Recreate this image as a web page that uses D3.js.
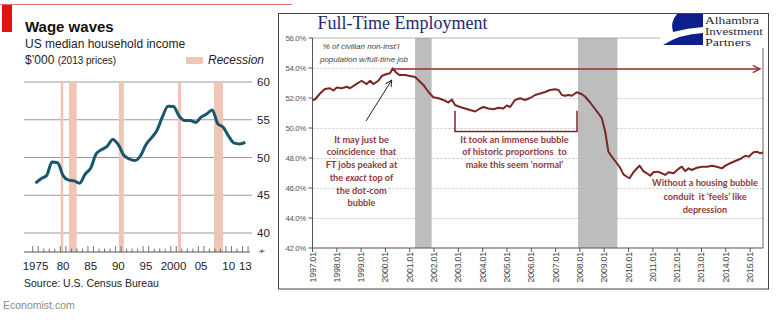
<!DOCTYPE html>
<html><head><meta charset="utf-8">
<script src="https://cdn.jsdelivr.net/npm/d3@7/dist/d3.min.js"></script>
<style>body{margin:0;background:#fff}svg{display:block}</style></head>
<body><svg id="c" width="779" height="324"></svg>
<script>
// ---------- Left chart data (The Economist) ----------
const incomeYears = [1975,1976,1977,1978,1979,1980,1981,1982,1983,1984,1985,1986,1987,1988,1989,1990,1991,1992,1993,1994,1995,1996,1997,1998,1999,2000,2001,2002,2003,2004,2005,2006,2007,2008,2009,2010,2011,2012,2013];
const incomeValues = [46.6,47.2,47.6,49.4,49.3,47.6,47.0,46.9,46.6,47.8,48.6,50.5,51.05,51.5,52.4,51.7,50.3,49.8,49.6,50.2,51.7,52.6,53.6,55.4,56.8,56.75,55.5,54.9,54.9,54.65,55.35,55.75,56.3,54.5,54.0,52.8,51.9,51.8,52.0];
const incomeYTicks = [60,55,50,45,40];
const incomeXTickYears = [1975,1980,1985,1990,1995,2000,2005,2010,2013];
const incomeXTickLabels = ["1975","80","85","90","95","2000","05","10","13"];
const usRecessionStarts = [1980.06,1981.57,1990.6,2001.31,2007.83];
const usRecessionEnds   = [1980.53,1982.96,1991.5,2001.85,2009.46];

// ---------- Right chart data (Full-Time Employment) ----------
const ftDates = [1997.0,1997.10,1997.31,1997.51,1997.72,1997.86,1998.0,1998.2,1998.41,1998.54,1998.75,1999.02,1999.23,1999.37,1999.5,1999.71,1999.85,2000.05,2000.19,2000.3,2000.44,2000.57,2000.81,2001.01,2001.22,2001.35,2001.56,2001.77,2001.97,2002.18,2002.38,2002.59,2002.73,2002.86,2003.07,2003.28,2003.48,2003.69,2003.89,2004.03,2004.23,2004.44,2004.65,2004.85,2004.99,2005.13,2005.33,2005.54,2005.74,2005.95,2006.16,2006.36,2006.57,2006.77,2006.98,2007.12,2007.26,2007.39,2007.53,2007.67,2007.87,2008.08,2008.21,2008.42,2008.63,2008.76,2008.9,2009.04,2009.17,2009.31,2009.52,2009.65,2009.79,2009.93,2010.04,2010.2,2010.34,2010.45,2010.61,2010.75,2010.89,2011.02,2011.19,2011.37,2011.51,2011.64,2011.85,2012.05,2012.19,2012.33,2012.47,2012.6,2012.81,2013.02,2013.23,2013.43,2013.63,2013.84,2013.98,2014.18,2014.39,2014.59,2014.8,2014.94,2015.14,2015.28,2015.42,2015.53];
const ftValues = [51.87,51.9,52.3,52.6,52.65,52.5,52.7,52.65,52.75,52.65,52.87,53.15,52.93,53.15,52.93,53.15,53.47,53.6,53.65,53.98,53.7,53.53,53.53,53.47,53.4,53.2,52.87,52.4,52.05,51.98,51.87,51.7,51.9,51.53,51.4,51.3,51.2,51.1,51.3,51.4,51.3,51.25,51.35,51.3,51.5,51.4,51.87,51.98,51.87,52.0,52.2,52.3,52.4,52.53,52.58,52.53,52.2,52.15,52.2,52.15,52.38,52.25,52.1,51.7,51.25,50.98,50.65,49.75,48.42,48.09,47.65,47.36,46.91,46.75,46.65,47.05,47.3,47.49,47.13,46.98,46.82,47.05,47.09,46.98,46.87,47.05,46.98,47.27,47.42,47.13,47.31,47.2,47.35,47.42,47.42,47.49,47.42,47.31,47.49,47.65,47.8,47.93,48.15,48.09,48.38,48.42,48.31,48.38];
const ftYTicks = [42,44,46,48,50,52,54,56];
const ftXTickYears = [1997,1998,1999,2000,2001,2002,2003,2004,2005,2006,2007,2008,2009,2010,2011,2012,2013,2014,2015];
const ftXTickLabels = ["1997.01","1998.01","1999.01","2000.01","2001.01","2002.01","2003.01","2004.01","2005.01","2006.01","2007.01","2008.01","2009.01","2010.01","2011.01","2012.01","2013.01","2014.01","2015.01"];
const ftRecessionStarts = [2001.22,2007.92];
const ftRecessionEnds   = [2001.9,2009.54];
const ftPeakLevel = 53.93;
const ftBracketStart = 2002.86, ftBracketEnd = 2007.88, ftBracketTop = 51.15, ftBracketBottom = 49.77;

const svg = d3.select("#c");
const SANS = "'Liberation Sans', Arial, sans-serif";

// ================= LEFT CHART =================
svg.append("line").attr("x1",0).attr("x2",292).attr("y1",4.5).attr("y2",4.5)
  .attr("stroke","#e27070").attr("stroke-width",1);
svg.append("rect").attr("x",2).attr("y",5).attr("width",10).attr("height",27).attr("fill","#e3120b");

svg.append("text").attr("x",25).attr("y",32).attr("font-family",SANS).attr("font-weight","bold")
  .attr("font-size",15).attr("fill","#111").text("Wage waves");
svg.append("text").attr("x",25).attr("y",48).attr("font-family",SANS).attr("font-size",12)
  .attr("fill","#222").text("US median household income");
const sub = svg.append("text").attr("x",25).attr("y",64).attr("font-family",SANS).attr("font-size",12).attr("fill","#222");
sub.append("tspan").text("$\u2019000 ");
sub.append("tspan").attr("font-size",10).text("(2013 prices)");
svg.append("rect").attr("x",186).attr("y",57).attr("width",17).attr("height",7).attr("fill","#efc6b4");
svg.append("text").attr("x",208).attr("y",64).attr("font-family",SANS).attr("font-style","italic")
  .attr("font-size",12).attr("fill","#222").text("Recession");

const xL = d3.scaleLinear().domain([1975.5, 2013.5]).range([35.5, 245.3]);
const yL = d3.scaleLinear().domain([40, 60]).range([233, 82]);

// gridlines
svg.append("g").selectAll("line").data(incomeYTicks).join("line")
  .attr("x1",24).attr("x2",252).attr("y1",d=>yL(d)).attr("y2",d=>yL(d))
  .attr("stroke","#9a9a9a").attr("stroke-width",1);
// recession bars
svg.append("g").selectAll("rect").data(usRecessionStarts).join("rect")
  .attr("x",(d)=>xL(d)).attr("width",(d,i)=>xL(usRecessionEnds[i])-xL(d))
  .attr("y",yL(60)).attr("height",252-yL(60)).attr("fill","#efc6b4");
// right labels
svg.append("g").selectAll("text").data(incomeYTicks).join("text")
  .attr("x",257).attr("y",d=>yL(d)+4).attr("font-family",SANS).attr("font-size",11.5)
  .attr("fill","#222").text(d=>d);
// axis baseline
svg.append("line").attr("x1",24).attr("x2",250).attr("y1",252).attr("y2",252).attr("stroke","#555");
const tickBounds = d3.range(1975, 2015);
svg.append("g").selectAll("line").data(tickBounds).join("line")
  .attr("x1",d=>xL(d)).attr("x2",d=>xL(d)).attr("y1",252)
  .attr("y2",d=> (incomeXTickYears.includes(d)||incomeXTickYears.includes(d-1)) ? 246 : 248.5)
  .attr("stroke","#555").attr("stroke-width",0.8);
svg.append("text").attr("x",258).attr("y",254).attr("font-family","'DejaVu Sans'").attr("font-size",9)
  .attr("fill","#444").text("\u2241");
svg.append("g").selectAll("text").data(incomeXTickYears).join("text")
  .attr("x",d=>xL(d+0.5)).attr("y",270).attr("text-anchor","middle").attr("font-family",SANS)
  .attr("font-size",11.5).attr("fill","#222").text((d,i)=>incomeXTickLabels[i]);
// line
svg.append("path").datum(incomeYears)
  .attr("d", d3.line().x(d=>xL(d+0.5)).y((d,i)=>yL(incomeValues[i])).curve(d3.curveMonotoneX))
  .attr("fill","none").attr("stroke","#17566e").attr("stroke-width",3).attr("stroke-linejoin","round");

svg.append("text").attr("x",24).attr("y",287).attr("font-family",SANS).attr("font-size",10.5)
  .attr("fill","#222").text("Source: U.S. Census Bureau");
svg.append("text").attr("x",3).attr("y",309).attr("font-family",SANS).attr("font-size",10.5)
  .attr("fill","#8a8a8a").text("Economist.com");

// ================= RIGHT CHART =================
const defs = svg.append("defs");
defs.append("marker").attr("id","redArrow").attr("viewBox","0 0 10 10").attr("refX",9).attr("refY",5)
  .attr("markerWidth",9).attr("markerHeight",9).attr("markerUnits","userSpaceOnUse").attr("orient","auto")
  .append("path").attr("d","M1,1 L9,5 L1,9").attr("fill","none").attr("stroke","#9b2c2c").attr("stroke-width",1.6);
defs.append("marker").attr("id","blkArrow").attr("viewBox","0 0 10 10").attr("refX",9).attr("refY",5)
  .attr("markerWidth",8).attr("markerHeight",8).attr("markerUnits","userSpaceOnUse").attr("orient","auto")
  .append("path").attr("d","M1,1 L9,5 L1,9").attr("fill","none").attr("stroke","#222").attr("stroke-width",1.2);

svg.append("rect").attr("x",278.5).attr("y",13.5).attr("width",490).attr("height",275.5)
  .attr("fill","#fff").attr("stroke","#444").attr("stroke-width",1);

svg.append("text").attr("x",402.5).attr("y",28.5).attr("text-anchor","middle")
  .attr("font-family","'Liberation Serif', 'Times New Roman', serif").attr("font-size",18)
  .attr("fill","#1d2b6e").text("Full-Time Employment");

const xR = d3.scaleLinear().domain([1997, 2015.53]).range([312.5, 763]);
const yR = d3.scaleLinear().domain([42, 56]).range([248, 38]);

// recession bars
svg.append("g").selectAll("rect").data(ftRecessionStarts).join("rect")
  .attr("x",d=>xR(d)).attr("width",(d,i)=>xR(ftRecessionEnds[i])-xR(d))
  .attr("y",yR(56)).attr("height",yR(42)-yR(56)).attr("fill","#bdbdbd");
// gridlines
svg.append("g").selectAll("line").data(ftYTicks.filter(d=>d>42 && d<56)).join("line")
  .attr("x1",312.5).attr("x2",763).attr("y1",d=>Math.round(yR(d))+0.5).attr("y2",d=>Math.round(yR(d))+0.5)
  .attr("stroke","#b5b5b5").attr("stroke-width",0.8).attr("stroke-dasharray","2,2");
// top line / right & bottom border
svg.append("line").attr("x1",312.5).attr("x2",763).attr("y1",yR(56)).attr("y2",yR(56)).attr("stroke","#a0a0a0").attr("stroke-width",0.8);
svg.append("line").attr("x1",763).attr("x2",763).attr("y1",yR(56)).attr("y2",yR(42)).attr("stroke","#666").attr("stroke-width",1);
svg.append("line").attr("x1",312.5).attr("x2",763).attr("y1",yR(42)).attr("y2",yR(42)).attr("stroke","#555").attr("stroke-width",1);
svg.append("line").attr("x1",312.5).attr("x2",312.5).attr("y1",yR(56)).attr("y2",yR(42)).attr("stroke","#555").attr("stroke-width",1);
// y ticks and labels
svg.append("g").selectAll("line").data(ftYTicks).join("line")
  .attr("x1",308.5).attr("x2",312.5).attr("y1",d=>yR(d)).attr("y2",d=>yR(d)).attr("stroke","#555");
svg.append("g").selectAll("text").data(ftYTicks).join("text")
  .attr("x",306).attr("y",d=>yR(d)+3).attr("text-anchor","end").attr("font-family",SANS)
  .attr("font-size",7.8).attr("letter-spacing",-0.3).attr("fill","#555").text(d=>d.toFixed(1)+"%");
// x ticks and labels
svg.append("g").selectAll("line").data(ftXTickYears).join("line")
  .attr("x1",d=>xR(d)).attr("x2",d=>xR(d)).attr("y1",yR(42)).attr("y2",yR(42)+4).attr("stroke","#555");
svg.append("g").selectAll("text").data(ftXTickYears).join("text")
  .attr("transform",d=>`translate(${xR(d)+3},${yR(42)+4}) rotate(-90)`)
  .attr("text-anchor","end").attr("font-family",SANS).attr("font-size",8.8).attr("letter-spacing",-0.2)
  .attr("fill","#444").text((d,i)=>ftXTickLabels[i]);

// caption
const cap = svg.append("g").attr("font-family",SANS).attr("font-style","italic").attr("font-size",8)
  .attr("fill","#444").attr("text-anchor","middle");
cap.append("text").attr("x",361).attr("y",48.5).text("% of civilian non-inst\u2019l");
cap.append("text").attr("x",364).attr("y",62).text("population w/full-time job");

// data line
svg.append("path").datum(ftDates)
  .attr("d", d3.line().x(d=>xR(d)).y((d,i)=>yR(ftValues[i])))
  .attr("fill","none").attr("stroke","#7b2626").attr("stroke-width",2).attr("stroke-linejoin","round");

// red horizontal arrow at peak
svg.append("line").attr("x1",xR(2000.3)).attr("x2",760).attr("y1",yR(ftPeakLevel)).attr("y2",yR(ftPeakLevel))
  .attr("stroke","#9b2c2c").attr("stroke-width",1.6).attr("marker-end","url(#redArrow)");

// black arrow to peak
svg.append("line").attr("x1",366).attr("y1",121).attr("x2",xR(2000.3)-1).attr("y2",yR(ftPeakLevel)+11)
  .attr("stroke","#222").attr("stroke-width",1).attr("marker-end","url(#blkArrow)");

// bracket
svg.append("path")
  .attr("d",`M${xR(ftBracketStart)},${yR(ftBracketTop)} V${yR(ftBracketBottom)} H${xR(ftBracketEnd)} V${yR(ftBracketTop)}`)
  .attr("fill","none").attr("stroke","#7b2626").attr("stroke-width",1.5);

// annotations
const ANN = "Lato, 'Open Sans', sans-serif";
function ann(x, ys, lines){
  const g = svg.append("g").attr("font-family",ANN).attr("font-weight",700).attr("font-size",9.2)
    .attr("fill","#8c3a3a").attr("text-anchor","middle");
  lines.forEach((l,i)=>{
    const t = g.append("text").attr("x",x).attr("y",ys[i]).attr("xml:space","preserve");
    if (Array.isArray(l)) l.forEach(p=>{ const s=t.append("tspan").text(p.t); if(p.i) s.attr("font-style","italic"); });
    else t.text(l);
  });
}
ann(361.5,[142.5,155.3,168,180.8,193.5,206.3],["It may just be","coincidence  that","FT jobs peaked at",
  [{t:"the "},{t:"exact",i:true},{t:" top of"}],"the dot-com","bubble"]);
ann(514.5,[142.5,155.3,168],["It took an immense bubble","of historic proportions  to","make this seem \u2018normal\u2019"]);
ann(705,[186,199.5,212.5],["Without a housing bubble","conduit  it \u2018feels\u2019 like","depression"]);

// logo
svg.append("rect").attr("x",660).attr("y",14).attr("width",108).attr("height",34).attr("fill","#fff");
svg.append("path").attr("d","M677,14 L703,14 L703,27 Q688,28 673,32 Q670,22 677,14 Z").attr("fill","#0d1f8c");
svg.append("path").attr("d","M663,45 L703,45 L703,33 Q680,34 663,45 Z").attr("fill","#0d1f8c");
const logo = svg.append("g").attr("font-family","'Liberation Serif', serif").attr("font-size",11)
  .attr("fill","#2a2a35");
logo.append("text").attr("x",705).attr("y",23.5).attr("textLength",54).attr("lengthAdjust","spacingAndGlyphs").text("Alhambra");
logo.append("text").attr("x",705).attr("y",34.5).attr("textLength",58).attr("lengthAdjust","spacingAndGlyphs").text("Investment");
logo.append("text").attr("x",705).attr("y",45.5).attr("textLength",46).attr("lengthAdjust","spacingAndGlyphs").text("Partners");
</script></body></html>
